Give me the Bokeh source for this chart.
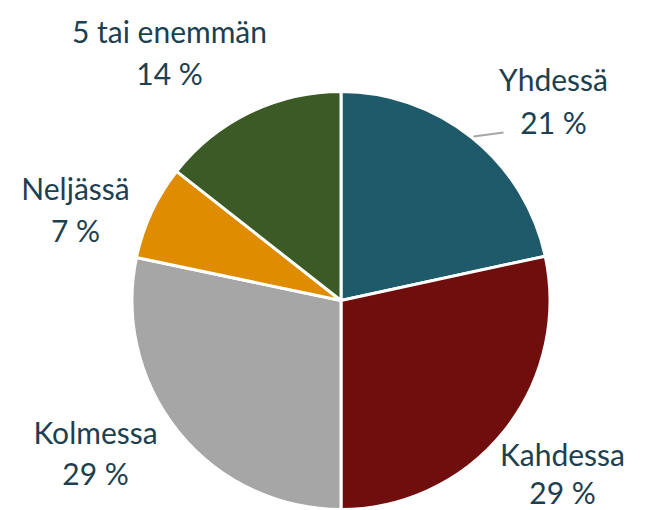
import numpy as np
from bokeh.plotting import figure
from bokeh.models import Range1d, ColumnDataSource
from bokeh.core.properties import value
from bokeh.embed import file_html
from bokeh.resources import INLINE

# ---- data ----
categories = ["Yhdessä", "Kahdessa", "Kolmessa", "Neljässä", "5 tai enemmän"]
shares = [21.6, 28.4, 28.3, 7.3, 14.4]
pct_labels = ["21 %", "29 %", "29 %", "7 %", "14 %"]
colors = ["#1F5A6B", "#700D0D", "#A6A6A6", "#E08C00", "#3C5A25"]

# ---- layout (page pixels) ----
W, H = 655, 510
OFF = 0
CX, CY, R = 340.5, 300, 209
name_pos = [(553, 78), (562, 453), (95, 431), (75, 187), (169, 30)]
pct_pos = [(553, 121), (562, 491), (95, 472), (75, 229), (169, 72)]
leader = [(473, 136), (503, 132)]
TEXT_COLOR = "#1D4050"
FONT_SIZE = "30px"


def dx(x):
    return x - OFF


def dy(y):
    return (OFF + H) - y


p = figure(width=W, height=H, output_backend="svg", toolbar_location=None,
           x_range=Range1d(0, W), y_range=Range1d(0, H), min_border=0)
p.axis.visible = False
p.grid.visible = False
p.outline_line_color = None
p.background_fill_color = "white"

frac = np.array(shares) / np.sum(shares)
cum = np.concatenate([[0], np.cumsum(frac)])
start = np.pi / 2 - 2 * np.pi * cum[:-1]
end = np.pi / 2 - 2 * np.pi * cum[1:]

src = ColumnDataSource(dict(start=start, end=end, color=colors,
                            x=[dx(CX)] * len(shares), y=[dy(CY)] * len(shares)))
p.wedge(x="x", y="y", radius=R, start_angle="start", end_angle="end",
        direction="clock", fill_color="color", line_color="white",
        line_width=3, source=src)

p.line([dx(x) for x, _ in leader], [dy(y) for _, y in leader],
       line_color="#A6A6A6", line_width=2)

for i in range(len(categories)):
    p.text([dx(name_pos[i][0])], [dy(name_pos[i][1])], text=[categories[i]],
           text_font=value("Lato"), text_font_size=FONT_SIZE, text_color=TEXT_COLOR,
           text_align="center", text_baseline="middle")
    p.text([dx(pct_pos[i][0])], [dy(pct_pos[i][1])], text=[pct_labels[i]],
           text_font=value("Lato"), text_font_size=FONT_SIZE, text_color=TEXT_COLOR,
           text_align="center", text_baseline="middle")

open("out.html", "w").write(file_html(p, INLINE))
